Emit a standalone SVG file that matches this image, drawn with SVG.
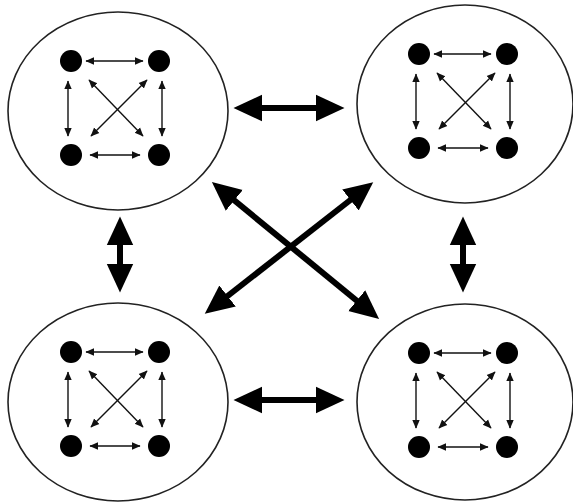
<svg xmlns="http://www.w3.org/2000/svg" xmlns:xlink="http://www.w3.org/1999/xlink" width="573" height="503" viewBox="0 0 573 503">
<style>
.cl{fill:none;stroke:#222;stroke-width:1.6}
.dot{fill:#000}
.thin{stroke:#111;stroke-width:1.4;fill:none;marker-start:url(#sh);marker-end:url(#sh)}
.big{stroke:#000;stroke-width:6;fill:none;marker-start:url(#bh);marker-end:url(#bh)}
</style>
<defs>
<marker id="sh" markerUnits="userSpaceOnUse" markerWidth="10" markerHeight="10" viewBox="0 -4 8 8" refX="6.5" refY="0" orient="auto-start-reverse">
<path d="M0,-3 L7,0 L0,3 z" fill="#111"/>
</marker>
<marker id="bh" markerUnits="userSpaceOnUse" markerWidth="30" markerHeight="30" viewBox="0 -14 28 28" refX="6" refY="0" orient="auto-start-reverse">
<path d="M0,-12.5 L27,0 L0,12.5 z" fill="#000"/>
</marker>
<g id="inner">
<circle class="dot" cx="0" cy="0" r="11"/>
<circle class="dot" cx="88" cy="0" r="11"/>
<circle class="dot" cx="0" cy="94" r="11"/>
<circle class="dot" cx="88" cy="94" r="11"/>
<line class="thin" x1="15" y1="0" x2="72" y2="0"/>
<line class="thin" x1="19" y1="94" x2="69" y2="94"/>
<line class="thin" x1="-3" y1="20" x2="-3" y2="75"/>
<line class="thin" x1="91" y1="20" x2="91" y2="75"/>
<line class="thin" x1="18" y1="19" x2="72" y2="75"/>
<line class="thin" x1="76" y1="19" x2="20" y2="75"/>
</g>
</defs>
<rect x="0" y="0" width="573" height="503" fill="#fff"/>
<g id="cluster-tl">
<ellipse class="cl" cx="118" cy="111" rx="110" ry="99"/>
<use xlink:href="#inner" href="#inner" x="71" y="61"/>
</g>
<g id="cluster-tr">
<ellipse class="cl" cx="465" cy="104" rx="108" ry="99"/>
<use xlink:href="#inner" href="#inner" x="419" y="54"/>
</g>
<g id="cluster-bl">
<ellipse class="cl" cx="118" cy="402" rx="110" ry="99"/>
<use xlink:href="#inner" href="#inner" x="71" y="352"/>
</g>
<g id="cluster-br">
<ellipse class="cl" cx="465" cy="402" rx="108" ry="98"/>
<use xlink:href="#inner" href="#inner" x="419" y="353"/>
</g>
<g id="connectors">
<line class="big" x1="256" y1="108" x2="322" y2="108"/>
<line class="big" x1="256" y1="400" x2="322" y2="400"/>
<line class="big" x1="120" y1="239" x2="120" y2="270"/>
<line class="big" x1="463" y1="239" x2="463" y2="270"/>
<line class="big" x1="229.3" y1="196.3" x2="361.7" y2="304.7"/>
<line class="big" x1="355.5" y1="196" x2="222.5" y2="300"/>
</g>
</svg>
